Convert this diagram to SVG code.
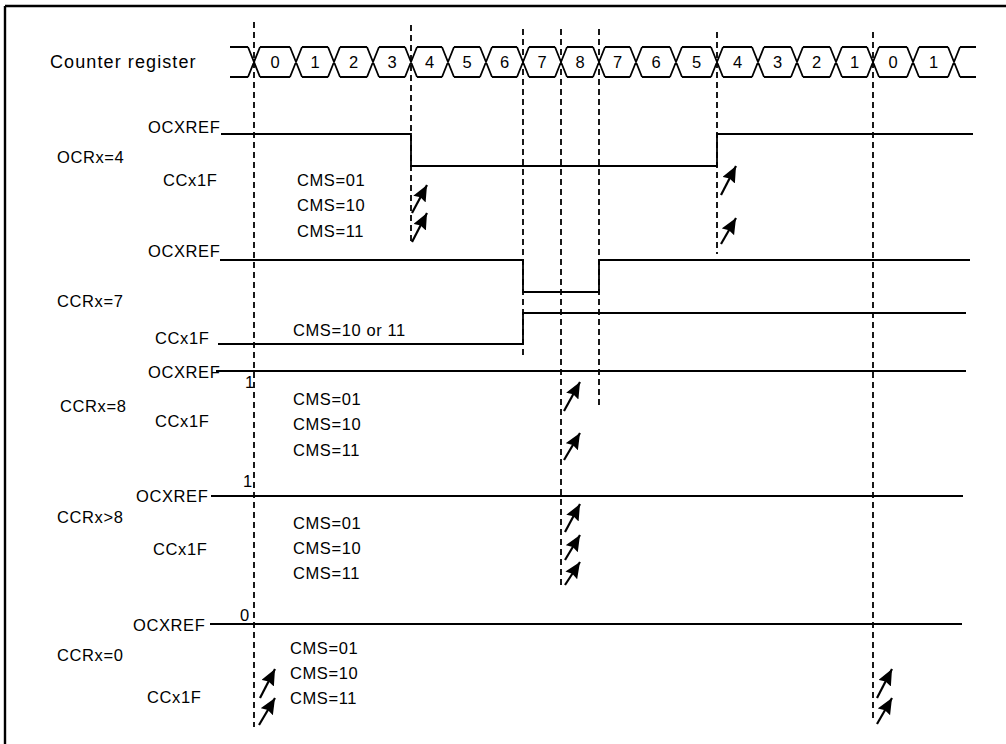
<svg xmlns="http://www.w3.org/2000/svg" width="1006" height="744" viewBox="0 0 1006 744">
<defs>
<marker id="ah" markerUnits="userSpaceOnUse" markerWidth="18" markerHeight="16" refX="16" refY="7" orient="auto">
<path d="M0,0 L16,7 L0,14 L2,7 z" fill="#000"/>
</marker>
</defs>
<style>
text{font-family:"Liberation Sans",Arial,sans-serif;font-size:16.5px;fill:#000;letter-spacing:0.6px}
.big{font-size:18px;letter-spacing:1.1px}
.sig{fill:none;stroke:#000;stroke-width:1.8}
.dash{fill:none;stroke:#000;stroke-width:1.8;stroke-dasharray:6 4}
.arr{fill:none;stroke:#000;stroke-width:2.2;marker-end:url(#ah)}
.mid{text-anchor:middle;letter-spacing:0}
</style>
<rect width="1006" height="744" fill="#fff"/>
<g id="frame">
<path d="M5,6 H1006 M5,6 V744" fill="none" stroke="#000" stroke-width="2.4"/>
</g>
<g id="counter">
<text class="big" x="50" y="68">Counter register</text>
<path class="sig" d="M230,47 H248 M230,77 H248
M248,47 L260,77 M248,77 L260,47 M260,47 H290 M260,77 H290
M290,47 L302,77 M290,77 L302,47 M302,47 H328 M302,77 H328
M328,47 L340,77 M328,77 L340,47 M340,47 H367 M340,77 H367
M367,47 L379,77 M367,77 L379,47 M379,47 H405 M379,77 H405
M405,47 L417,77 M405,77 L417,47 M417,47 H442 M417,77 H442
M442,47 L454,77 M442,77 L454,47 M454,47 H480 M454,77 H480
M480,47 L492,77 M480,77 L492,47 M492,47 H517 M492,77 H517
M517,47 L529,77 M517,77 L529,47 M529,47 H555 M529,77 H555
M555,47 L567,77 M555,77 L567,47 M567,47 H593 M567,77 H593
M593,47 L605,77 M593,77 L605,47 M605,47 H630 M605,77 H630
M630,47 L642,77 M630,77 L642,47 M642,47 H670 M642,77 H670
M670,47 L682,77 M670,77 L682,47 M682,47 H711 M682,77 H711
M711,47 L723,77 M711,77 L723,47 M723,47 H752 M723,77 H752
M752,47 L764,77 M752,77 L764,47 M764,47 H791 M764,77 H791
M791,47 L803,77 M791,77 L803,47 M803,47 H830 M803,77 H830
M830,47 L842,77 M830,77 L842,47 M842,47 H867 M842,77 H867
M867,47 L879,77 M867,77 L879,47 M879,47 H907 M879,77 H907
M907,47 L919,77 M907,77 L919,47 M919,47 H948 M919,77 H948
M948,47 L960,77 M948,77 L960,47 M960,47 H976 M960,77 H976"/>
<text class="mid" x="275" y="68">0</text>
<text class="mid" x="315" y="68">1</text>
<text class="mid" x="353.5" y="68">2</text>
<text class="mid" x="392" y="68">3</text>
<text class="mid" x="429.5" y="68">4</text>
<text class="mid" x="467" y="68">5</text>
<text class="mid" x="504.5" y="68">6</text>
<text class="mid" x="542" y="68">7</text>
<text class="mid" x="580" y="68">8</text>
<text class="mid" x="617.5" y="68">7</text>
<text class="mid" x="656" y="68">6</text>
<text class="mid" x="696.5" y="68">5</text>
<text class="mid" x="737.5" y="68">4</text>
<text class="mid" x="777.5" y="68">3</text>
<text class="mid" x="816.5" y="68">2</text>
<text class="mid" x="854.5" y="68">1</text>
<text class="mid" x="893" y="68">0</text>
<text class="mid" x="933.5" y="68">1</text>
</g>
<g id="guides">
<path class="dash" d="M254,22 V727"/>
<path class="dash" d="M411,25 V245"/>
<path class="dash" d="M523,29 V357"/>
<path class="dash" d="M561,29 V585"/>
<path class="dash" d="M599,29 V405"/>
<path class="dash" d="M717,32 V254"/>
<path class="dash" d="M873,32 V720"/>
</g>
<g id="row-ocr4">
<text x="148" y="133">OCXREF</text>
<text x="57" y="163">OCRx=4</text>
<text x="163" y="186">CCx1F</text>
<text x="297" y="186">CMS=01</text>
<text x="297" y="211">CMS=10</text>
<text x="297" y="237">CMS=11</text>
<path class="sig" d="M221,134 H411 V166 H717 V134 H973"/>
</g>
<g id="row-ccr7">
<text x="148" y="257">OCXREF</text>
<text x="57" y="307">CCRx=7</text>
<text x="155" y="344">CCx1F</text>
<text x="293" y="336">CMS=10 or 11</text>
<path class="sig" d="M220,260 H523 V292 H599 V260 H970"/>
<path class="sig" d="M218,344 H523 V313 H966"/>
</g>
<g id="row-ccr8">
<text x="148" y="378">OCXREF</text>
<text x="245" y="388">1</text>
<text x="60" y="412">CCRx=8</text>
<text x="155" y="427">CCx1F</text>
<text x="293" y="405">CMS=01</text>
<text x="293" y="430">CMS=10</text>
<text x="293" y="456">CMS=11</text>
<path class="sig" d="M216,371 H966"/>
</g>
<g id="row-ccrgt8">
<text x="243" y="487">1</text>
<text x="136" y="502">OCXREF</text>
<text x="57" y="523">CCRx&gt;8</text>
<text x="153" y="555">CCx1F</text>
<text x="293" y="529">CMS=01</text>
<text x="293" y="554">CMS=10</text>
<text x="293" y="579">CMS=11</text>
<path class="sig" d="M211,496 H963"/>
</g>
<g id="row-ccr0">
<text x="240" y="621">0</text>
<text x="133" y="631">OCXREF</text>
<text x="57" y="661">CCRx=0</text>
<text x="147" y="703">CCx1F</text>
<text x="290" y="654">CMS=01</text>
<text x="290" y="679">CMS=10</text>
<text x="290" y="704">CMS=11</text>
<path class="sig" d="M210,624 H962"/>
</g>
<g id="connectors">
<path class="arr" d="M412,213 L427,185"/>
<path class="arr" d="M412,242 L427,213"/>
<path class="arr" d="M721,195 L736,166"/>
<path class="arr" d="M721,244 L736,218"/>
<path class="arr" d="M564,411 L580,382"/>
<path class="arr" d="M564,460 L580,433"/>
<path class="arr" d="M565,532 L580,504"/>
<path class="arr" d="M565,560 L580,535"/>
<path class="arr" d="M565,585 L580,562"/>
<path class="arr" d="M260,698 L275,669"/>
<path class="arr" d="M259,725 L275,698"/>
<path class="arr" d="M877,698 L892,669"/>
<path class="arr" d="M877,724 L892,698"/>
</g>
</svg>
